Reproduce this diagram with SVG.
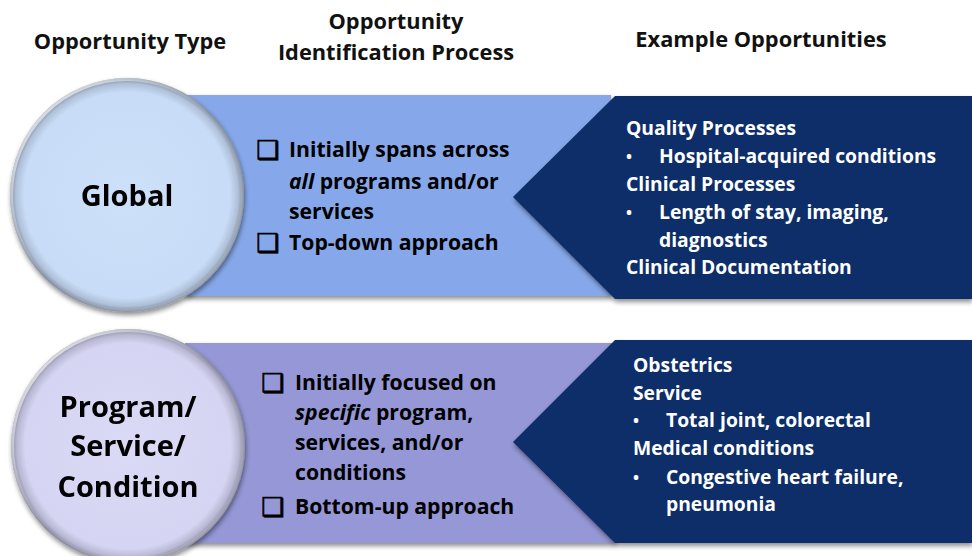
<svg xmlns="http://www.w3.org/2000/svg" width="972" height="556" viewBox="0 0 972 556">
  <defs>
    <radialGradient id="discBlue" cx="0.5" cy="0.5" r="0.5">
      <stop offset="0" stop-color="#CCE0FA"/>
      <stop offset="0.88" stop-color="#C8DCF7"/>
      <stop offset="0.95" stop-color="#AFC0D8"/>
      <stop offset="1" stop-color="#7E8898"/>
    </radialGradient>
    <radialGradient id="discLilac" cx="0.5" cy="0.5" r="0.5">
      <stop offset="0" stop-color="#DADAF6"/>
      <stop offset="0.88" stop-color="#D5D5F3"/>
      <stop offset="0.95" stop-color="#B8B8D4"/>
      <stop offset="1" stop-color="#858598"/>
    </radialGradient>
    <linearGradient id="rimLight" x1="0" y1="0" x2="1" y2="1">
      <stop offset="0" stop-color="#FFFFFF" stop-opacity="0.9"/>
      <stop offset="0.5" stop-color="#FFFFFF" stop-opacity="0"/>
      <stop offset="1" stop-color="#FFFFFF" stop-opacity="0.2"/>
    </linearGradient>
    <filter id="shadow" x="-10%" y="-10%" width="125%" height="125%">
      <feGaussianBlur in="SourceAlpha" stdDeviation="2.5"/>
      <feOffset dx="1" dy="3" result="b"/>
      <feComponentTransfer><feFuncA type="linear" slope="0.45"/></feComponentTransfer>
      <feMerge><feMergeNode/><feMergeNode in="SourceGraphic"/></feMerge>
    </filter>
  </defs>
  <style>
    text { font-family: "Open Sans", Lato, "Liberation Sans", sans-serif; font-weight: bold; }
    .head { font-size: 21.8px; fill: #111111; text-anchor: middle; }
    .disc { font-size: 29px; fill: #000000; text-anchor: middle; }
    .mid { font-size: 21.2px; fill: #000000; }
    .box { font-family: "DejaVu Sans", sans-serif; font-weight: normal; font-size: 26px; fill: #000000; stroke: #000000; stroke-width: 0.7px; }
    .ex { font-size: 19.3px; fill: #FFFFFF; }
    .dot { font-size: 16px; fill: #FFFFFF; }
    .band1 { fill: #86A8EA; }
    .band2 { fill: #9597D6; }
    .dark { fill: #0F2D69; }
  </style>

  <rect width="972" height="556" fill="#FFFFFF"/>

  <!-- column headings -->
  <g id="headings">
    <text class="head" x="130" y="49">Opportunity Type</text>
    <text class="head" x="396" y="29">Opportunity</text>
    <text class="head" x="396" y="60">Identification Process</text>
    <text class="head" x="761" y="47">Example Opportunities</text>
  </g>

  <!-- row 1: Global -->
  <g id="global-process" filter="url(#shadow)">
    <rect class="band1" x="185" y="95" width="426" height="201"/>
  </g>
  <g id="global-examples" filter="url(#shadow)">
    <polygon class="dark" points="615,96 972,96 972,299 615,299 513,197"/>
  </g>
  <g id="global-type" filter="url(#shadow)">
    <circle cx="127" cy="195" r="117" fill="url(#discBlue)"/>
    <circle cx="127" cy="195" r="115.5" fill="none" stroke="url(#rimLight)" stroke-width="3"/>
    <text class="disc" x="127" y="206">Global</text>
  </g>
  <g id="global-process-text">
    <text class="box" x="256" y="159">❑</text>
    <text class="mid" x="289" y="157">Initially spans across</text>
    <text class="mid" x="289" y="189"><tspan font-style="italic">all</tspan> programs and/or</text>
    <text class="mid" x="289" y="219">services</text>
    <text class="box" x="256" y="252">❑</text>
    <text class="mid" x="289" y="250">Top-down approach</text>
  </g>
  <g id="global-examples-text">
    <text class="ex" x="626" y="135">Quality Processes</text>
    <text class="dot" x="626" y="162">•</text>
    <text class="ex" x="659" y="163">Hospital-acquired conditions</text>
    <text class="ex" x="626" y="191">Clinical Processes</text>
    <text class="dot" x="626" y="218">•</text>
    <text class="ex" x="659" y="219">Length of stay, imaging,</text>
    <text class="ex" x="659" y="247">diagnostics</text>
    <text class="ex" x="626" y="274">Clinical Documentation</text>
  </g>

  <!-- row 2: Program / Service / Condition -->
  <g id="program-process" filter="url(#shadow)">
    <rect class="band2" x="185" y="343" width="430" height="200"/>
  </g>
  <g id="program-examples" filter="url(#shadow)">
    <polygon class="dark" points="615,340 972,340 972,543 615,543 513,442"/>
  </g>
  <g id="program-type" filter="url(#shadow)">
    <circle cx="128" cy="446" r="117" fill="url(#discLilac)"/>
    <circle cx="128" cy="446" r="115.5" fill="none" stroke="url(#rimLight)" stroke-width="3"/>
    <text class="disc" x="128" y="417">Program/</text>
    <text class="disc" x="128" y="456">Service/</text>
    <text class="disc" x="128" y="497">Condition</text>
  </g>
  <g id="program-process-text">
    <text class="box" x="261" y="392">❑</text>
    <text class="mid" x="295" y="390">Initially focused on</text>
    <text class="mid" x="295" y="420"><tspan font-style="italic">specific</tspan> program,</text>
    <text class="mid" x="295" y="450">services, and/or</text>
    <text class="mid" x="295" y="480">conditions</text>
    <text class="box" x="261" y="516">❑</text>
    <text class="mid" x="295" y="514">Bottom-up approach</text>
  </g>
  <g id="program-examples-text">
    <text class="ex" x="633" y="372">Obstetrics</text>
    <text class="ex" x="633" y="400">Service</text>
    <text class="dot" x="633" y="426">•</text>
    <text class="ex" x="666" y="427">Total joint, colorectal</text>
    <text class="ex" x="633" y="455">Medical conditions</text>
    <text class="dot" x="633" y="483">•</text>
    <text class="ex" x="666" y="484">Congestive heart failure,</text>
    <text class="ex" x="666" y="511">pneumonia</text>
  </g>
</svg>
